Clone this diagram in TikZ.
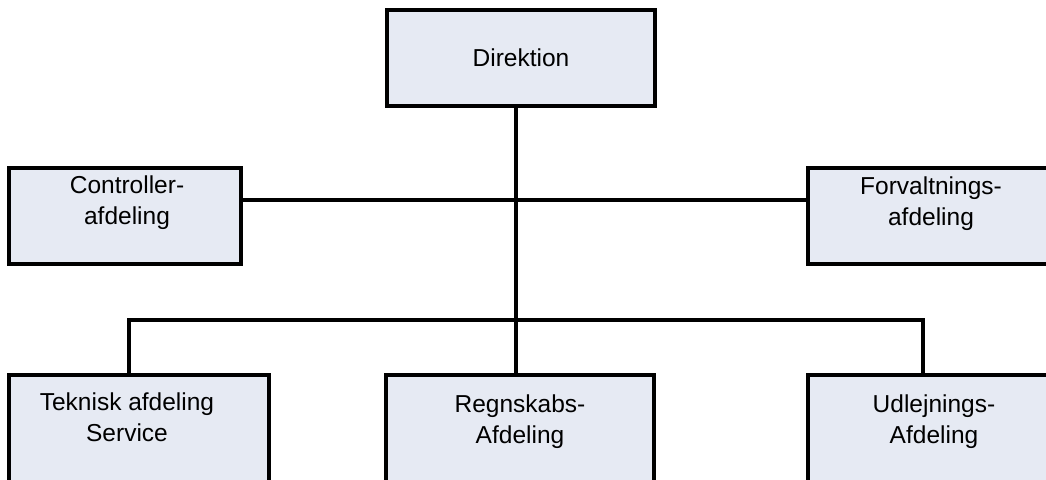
\documentclass[tikz,border=0pt]{standalone}
\usepackage{fontspec}
\setmainfont{Liberation Sans}
\definecolor{boxfill}{HTML}{E6EAF3}
\begin{document}
\begin{tikzpicture}[x=1pt,y=-1pt,
  orgbox/.style={draw=black, line width=3.3pt, fill=boxfill, rectangle, inner sep=0pt},
  orgtext/.style={inner sep=0pt, align=center, anchor=north, font=\fontsize{24.5}{31}\selectfont},
  conn/.style={draw=black, line width=3.1pt}]
\clip (0,0) rectangle (1046,479);
\fill[white] (0,0) rectangle (1046,479);
% boxes
\node[orgbox, minimum width=268pt, minimum height=96pt] (dir) at (521,58) {};
\node[orgbox, minimum width=232pt, minimum height=96pt] (ctrl) at (125,216) {};
\node[orgbox, minimum width=252pt, minimum height=96pt] (forv) at (934,216) {};
\node[orgbox, minimum width=260pt, minimum height=126pt] (tek) at (139,438) {};
\node[orgbox, minimum width=268pt, minimum height=126pt] (regn) at (520,438) {};
\node[orgbox, minimum width=252pt, minimum height=126pt] (udl) at (934,438) {};
% texts
\node[inner sep=0pt, font=\fontsize{24.5}{31}\selectfont] (tdir) at (521,58) {Direktion};
\node[orgtext] (tctrl) at (127,176) {Controller-\\afdeling};
\node[orgtext] (tforv) at (931,177) {Forvaltnings-\\afdeling};
\node[orgtext] (ttek) at (127,393) {Teknisk afdeling\\Service};
\node[orgtext] (tregn) at (520,395) {Regnskabs-\\Afdeling};
\node[orgtext] (tudl) at (934,395) {Udlejnings-\\Afdeling};
% connectors
\coordinate (mid) at (516,200);
\coordinate (bus) at (516,320);
\coordinate (busl) at (129,320);
\coordinate (busr) at (923,320);
\draw[conn] (dir.south -| mid) -- (regn.north -| mid);
\draw[conn] (ctrl.east |- mid) -- (forv.west |- mid);
\draw[conn] (tek.north -| busl) -- (busl) -- (busr) -- (udl.north -| busr);
\end{tikzpicture}
\end{document}
